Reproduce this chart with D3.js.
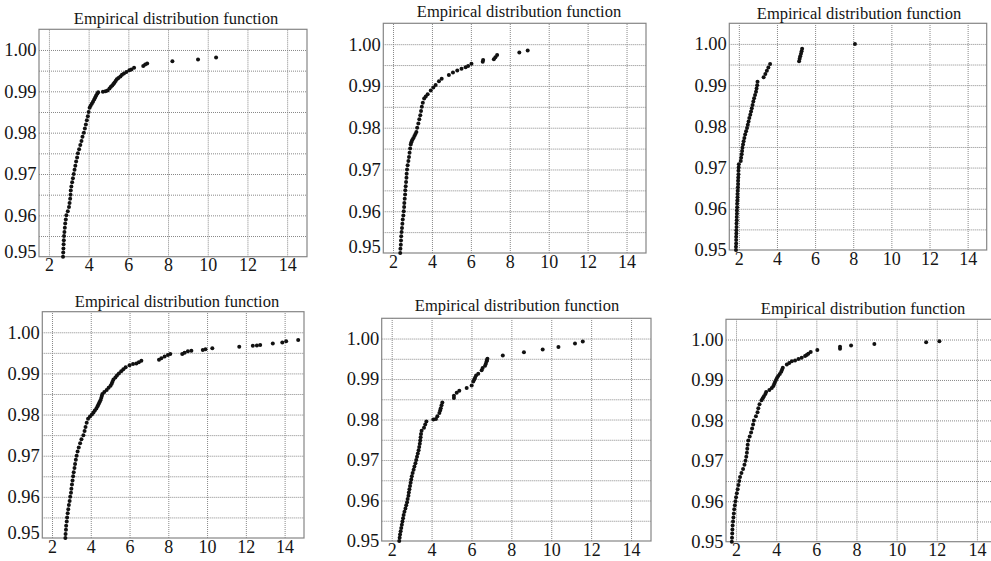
<!DOCTYPE html>
<html>
<head>
<meta charset="utf-8">
<script src="https://cdn.jsdelivr.net/npm/d3@7"></script>
<style>
  body { margin: 0; background: #fff; }
  svg { display: block; }
  text { font-family: "Liberation Serif", "Times New Roman", serif; fill: #151515; }
</style>
</head>
<body>
<svg id="chart" width="991" height="561"></svg>
<script>
// Shared text and axis ticks
const chartTitle = "Empirical distribution function";
const xTicks = [2, 4, 6, 8, 10, 12, 14];
const yTicks = [0.95, 0.96, 0.97, 0.98, 0.99, 1.00];
const yGridTicks = [0.955, 0.96, 0.965, 0.97, 0.975, 0.98, 0.985, 0.99, 0.995, 1.00];
const xDomain = [1.5, 15];
const yDomain = [0.95, 1.005];

// Upper tails of the six empirical distribution functions, [x, F(x)]
const ecdf1 = [
  [2.71,0.950],[2.72,0.951],[2.73,0.952],[2.74,0.953],[2.75,0.954],[2.76,0.955],[2.78,0.956],
  [2.80,0.957],[2.82,0.958],[2.85,0.959],[2.88,0.960],[2.95,0.961],[3.01,0.962],[3.04,0.963],
  [3.07,0.964],[3.09,0.965],[3.10,0.966],[3.13,0.967],[3.17,0.968],[3.21,0.969],[3.25,0.970],
  [3.29,0.971],[3.33,0.972],[3.37,0.973],[3.42,0.974],[3.46,0.975],[3.52,0.976],[3.58,0.977],
  [3.64,0.978],[3.69,0.979],[3.76,0.980],[3.81,0.981],[3.86,0.982],[3.91,0.983],[3.96,0.984],
  [4.00,0.985],[4.05,0.986],[4.10,0.9865],[4.16,0.987],[4.22,0.9875],[4.28,0.988],[4.33,0.9885],
  [4.38,0.989],[4.44,0.9895],[4.48,0.9898],
  [4.72,0.9899],[4.85,0.9900],[4.95,0.9902],[5.05,0.9907],[5.12,0.9911],[5.19,0.9914],
  [5.25,0.9918],[5.30,0.9921],[5.36,0.9925],[5.42,0.9929],[5.50,0.9932],[5.60,0.9936],
  [5.68,0.9940],[5.78,0.9943],[5.90,0.9947],[6.05,0.9951],[6.15,0.9953],[6.29,0.9957],
  [6.75,0.9961],[6.85,0.9965],[6.95,0.9967],[8.22,0.9973],[9.51,0.9977],[10.42,0.9982]
];

const ecdf2 = [
  [2.37,0.950],[2.38,0.951],[2.40,0.952],[2.41,0.953],[2.42,0.954],[2.44,0.955],[2.46,0.956],
  [2.48,0.957],[2.50,0.958],[2.53,0.959],[2.55,0.960],[2.57,0.961],[2.58,0.962],[2.60,0.963],
  [2.62,0.964],[2.63,0.965],[2.65,0.966],[2.67,0.967],[2.69,0.968],[2.70,0.969],[2.72,0.970],
  [2.75,0.971],[2.79,0.972],[2.82,0.973],[2.85,0.974],[2.88,0.975],[2.91,0.976],[2.94,0.9765],
  [2.98,0.977],[3.04,0.9775],[3.10,0.978],[3.15,0.9785],[3.20,0.979],[3.24,0.980],[3.30,0.981],
  [3.35,0.982],[3.40,0.983],[3.44,0.984],[3.48,0.985],[3.53,0.986],[3.60,0.987],[3.68,0.9875],
  [3.78,0.988],
  [3.94,0.9889],[4.07,0.9896],[4.19,0.9902],[4.36,0.9911],[4.50,0.9917],[4.87,0.9926],
  [5.08,0.9932],[5.30,0.9937],[5.52,0.9941],[5.73,0.9945],[5.86,0.9948],[6.03,0.9953],
  [6.61,0.9958],[6.63,0.9962],[7.18,0.9964],[7.26,0.9969],[7.35,0.9974],[8.49,0.9980],
  [8.92,0.9985]
];

const ecdf3 = [
  [1.85,0.9500],[1.85,0.9508],[1.86,0.9516],[1.86,0.9524],[1.86,0.9532],[1.87,0.9540],
  [1.87,0.9548],[1.88,0.9556],[1.88,0.9564],[1.89,0.9572],[1.89,0.9580],[1.90,0.9588],
  [1.90,0.9596],[1.91,0.9604],[1.91,0.9612],[1.92,0.9620],[1.93,0.9628],[1.93,0.9636],
  [1.94,0.9644],[1.95,0.9652],[1.96,0.9660],[1.96,0.9668],[1.97,0.9676],[1.98,0.9684],
  [1.98,0.9692],[1.99,0.9700],[2.00,0.9708],
  [2.10,0.9716],[2.12,0.9724],[2.15,0.9732],[2.17,0.9740],[2.19,0.9748],[2.22,0.9756],
  [2.25,0.9764],[2.29,0.9772],[2.33,0.9780],[2.38,0.9788],[2.43,0.9796],[2.47,0.9804],
  [2.51,0.9812],[2.55,0.9820],[2.60,0.9828],[2.64,0.9836],[2.68,0.9844],[2.72,0.9852],
  [2.76,0.9860],[2.80,0.9868],[2.85,0.9876],[2.90,0.9884],[2.93,0.9892],[2.96,0.9900],
  [2.98,0.9908],
  [3.30,0.9919],[3.39,0.9927],[3.47,0.9935],[3.55,0.9943],[3.64,0.9951],
  [5.16,0.9958],[5.19,0.9964],[5.22,0.9970],[5.26,0.9976],[5.29,0.9982],[5.32,0.9988],
  [8.09,1.0000]
];

const ecdf4 = [
  [2.69,0.950],[2.70,0.951],[2.72,0.952],[2.73,0.953],[2.76,0.954],[2.78,0.955],[2.81,0.956],
  [2.84,0.957],[2.87,0.958],[2.91,0.959],[2.94,0.960],[2.98,0.961],[3.00,0.962],[3.03,0.963],
  [3.06,0.964],[3.09,0.965],[3.12,0.966],[3.16,0.967],[3.19,0.968],[3.23,0.969],[3.27,0.970],
  [3.32,0.971],[3.38,0.972],[3.45,0.973],[3.52,0.974],[3.62,0.975],[3.68,0.976],[3.73,0.977],
  [3.79,0.978],[3.86,0.979],[3.96,0.9795],[4.06,0.980],[4.14,0.9805],[4.21,0.981],[4.29,0.9815],
  [4.35,0.982],[4.40,0.9825],[4.45,0.983],[4.50,0.9835],[4.54,0.984],[4.57,0.9845],[4.60,0.985],
  [4.70,0.9855],[4.82,0.986],[4.92,0.9865],[5.02,0.987],[5.08,0.9875],[5.12,0.988],[5.17,0.9885],
  [5.27,0.989],[5.35,0.9895],[5.45,0.990],[5.57,0.9905],[5.68,0.991],[5.80,0.9915],[6.00,0.992],
  [6.18,0.9923],[6.35,0.9924],[6.48,0.9927],[6.61,0.9931],[7.52,0.9933],[7.64,0.9937],
  [7.81,0.9941],[7.98,0.9945],[8.10,0.9947],[8.72,0.9947],[8.84,0.9950],[9.01,0.9954],
  [9.19,0.9955],[9.78,0.9957],[9.92,0.9959],[10.27,0.9961],[11.66,0.9965],[12.36,0.9967],
  [12.57,0.9968],[12.74,0.9969],[13.39,0.9973],[13.88,0.9975],[14.08,0.9978],[14.70,0.9981]
];

const ecdf5 = [
  [2.38,0.9500],[2.40,0.9508],[2.42,0.9516],[2.45,0.9524],[2.48,0.9532],[2.51,0.9540],
  [2.54,0.9548],[2.57,0.9556],[2.60,0.9564],[2.64,0.9572],[2.69,0.9580],[2.73,0.9588],
  [2.77,0.9596],[2.80,0.9604],[2.84,0.9612],[2.86,0.9620],[2.89,0.9628],[2.92,0.9636],
  [2.95,0.9644],[2.98,0.9652],[3.01,0.9660],[3.05,0.9668],[3.10,0.9676],[3.14,0.9684],
  [3.19,0.9692],[3.23,0.9700],[3.27,0.9708],[3.31,0.9716],[3.35,0.9724],[3.38,0.9732],
  [3.41,0.9740],[3.43,0.9748],[3.45,0.9756],[3.47,0.9764],[3.50,0.9772],[3.62,0.9780],
  [3.68,0.9788],[3.74,0.9795],
  [4.09,0.9800],[4.22,0.9801],[4.29,0.9808],[4.39,0.9816],[4.43,0.9822],[4.46,0.9828],
  [4.50,0.9835],[4.54,0.9842],[5.12,0.9853],[5.12,0.9859],[5.26,0.9866],[5.39,0.9871],
  [5.76,0.9878],[6.01,0.9884],[6.09,0.9894],[6.14,0.9899],[6.18,0.9903],[6.23,0.9909],
  [6.34,0.9913],[6.51,0.9922],[6.56,0.9927],[6.68,0.9933],[6.72,0.9938],[6.76,0.9944],
  [6.78,0.9947],[6.80,0.9950],[7.57,0.9958],[8.63,0.9966],[9.57,0.9973],[10.36,0.9979],
  [11.19,0.9988],[11.58,0.9993]
];

const ecdf6 = [
  [1.79,0.950],[1.80,0.951],[1.81,0.952],[1.82,0.953],[1.83,0.954],[1.85,0.955],[1.87,0.956],
  [1.89,0.957],[1.91,0.958],[1.94,0.959],[1.97,0.960],[2.00,0.961],[2.04,0.962],[2.08,0.963],
  [2.12,0.964],[2.16,0.965],[2.20,0.966],[2.27,0.967],[2.35,0.968],[2.42,0.969],[2.47,0.970],
  [2.51,0.971],[2.54,0.972],[2.56,0.973],[2.58,0.974],[2.61,0.975],[2.68,0.976],[2.75,0.977],
  [2.80,0.978],[2.85,0.979],[2.89,0.980],[2.99,0.981],[3.07,0.982],[3.11,0.983],[3.17,0.984],
  [3.27,0.985],[3.33,0.9855],[3.39,0.986],[3.46,0.9865],[3.50,0.987],[3.66,0.9875],[3.78,0.988],
  [3.86,0.9885],[3.90,0.989],[3.94,0.9895],[3.99,0.990],[4.04,0.9905],[4.10,0.991],[4.18,0.9915],
  [4.25,0.992],[4.29,0.9925],[4.33,0.993],
  [4.53,0.9938],[4.65,0.9942],[4.78,0.9946],[4.94,0.9948],[5.11,0.9952],[5.27,0.9955],
  [5.44,0.9959],[5.52,0.9962],[5.60,0.9965],[5.72,0.9969],[6.05,0.9974],[7.18,0.9977],
  [7.18,0.9982],[7.73,0.9985],[8.89,0.9989],[11.47,0.9993],[12.13,0.9996]
];

const series = [ecdf1, ecdf2, ecdf3, ecdf4, ecdf5, ecdf6];

// Plot frames (pixel boxes), title anchors and the lift of the lowest y label
const frames = [
  { left: 39,    top: 29.3,  right: 307,   bottom: 256.7, titleX: 176, titleY: 24,    lift: 5 },
  { left: 383.3, top: 23.3,  right: 646,   bottom: 253,   titleX: 519, titleY: 17,    lift: 6 },
  { left: 729.3, top: 23.3,  right: 986.7, bottom: 250,   titleX: 859, titleY: 18.5,  lift: 0 },
  { left: 42.3,  top: 311.7, right: 304,   bottom: 538,   titleX: 177, titleY: 306.5, lift: 5 },
  { left: 381.7, top: 318.3, right: 651,   bottom: 541,   titleX: 517, titleY: 311,   lift: 0 },
  { left: 726,   top: 319.3, right: 997,   bottom: 541.7, titleX: 863, titleY: 313.5, lift: 0 }
];

const svg = d3.select("#chart");
const serif = "'Liberation Serif', 'Times New Roman', serif";

frames.forEach((f, i) => {
  const w = f.right - f.left, h = f.bottom - f.top;
  const x = d3.scaleLinear().domain(xDomain).range([0, w]);
  const y = d3.scaleLinear().domain(yDomain).range([h, 0]);
  const g = svg.append("g").attr("transform", `translate(${f.left},${f.top})`);

  // vertical grid lines at the labelled x ticks
  const gx = g.append("g")
    .attr("transform", `translate(0,${h})`)
    .call(d3.axisBottom(x).tickValues(xTicks).tickSize(-h).tickPadding(2).tickFormat(d3.format("d")));
  gx.attr("font-family", null);
  gx.select(".domain").remove();
  gx.selectAll("line").attr("stroke", "#888").attr("stroke-width", 1).attr("stroke-dasharray", "1,1");
  gx.selectAll("text").attr("font-size", 18).attr("fill", "#151515").style("font-family", serif);

  // horizontal grid lines every 0.005
  const gy = g.append("g")
    .call(d3.axisLeft(y).tickValues(yGridTicks).tickSize(-w).tickFormat(""));
  gy.select(".domain").remove();
  gy.selectAll("line").attr("stroke", "#888").attr("stroke-width", 1).attr("stroke-dasharray", "1,1");

  // y tick labels
  const gl = g.append("g")
    .call(d3.axisLeft(y).tickValues(yTicks).tickSize(0).tickPadding(2.5).tickFormat(d3.format(".2f")));
  gl.attr("font-family", null);
  gl.select(".domain").remove();
  gl.selectAll("text").attr("font-size", 18.5).attr("fill", "#151515").style("font-family", serif)
    .attr("y", d => (d === yDomain[0] ? -f.lift : 0));

  // frame
  g.append("rect").attr("width", w).attr("height", h)
    .attr("fill", "none").attr("stroke", "#858585").attr("stroke-width", 1.2);

  // ECDF points
  g.append("g").selectAll("circle").data(series[i]).join("circle")
    .attr("cx", d => x(d[0])).attr("cy", d => y(d[1]))
    .attr("r", 2).attr("fill", "#111");

  svg.append("text").attr("x", f.titleX).attr("y", f.titleY)
    .attr("text-anchor", "middle").attr("font-size", 16.5)
    .style("font-family", serif).attr("fill", "#151515").text(chartTitle);
});
</script>
</body>
</html>
